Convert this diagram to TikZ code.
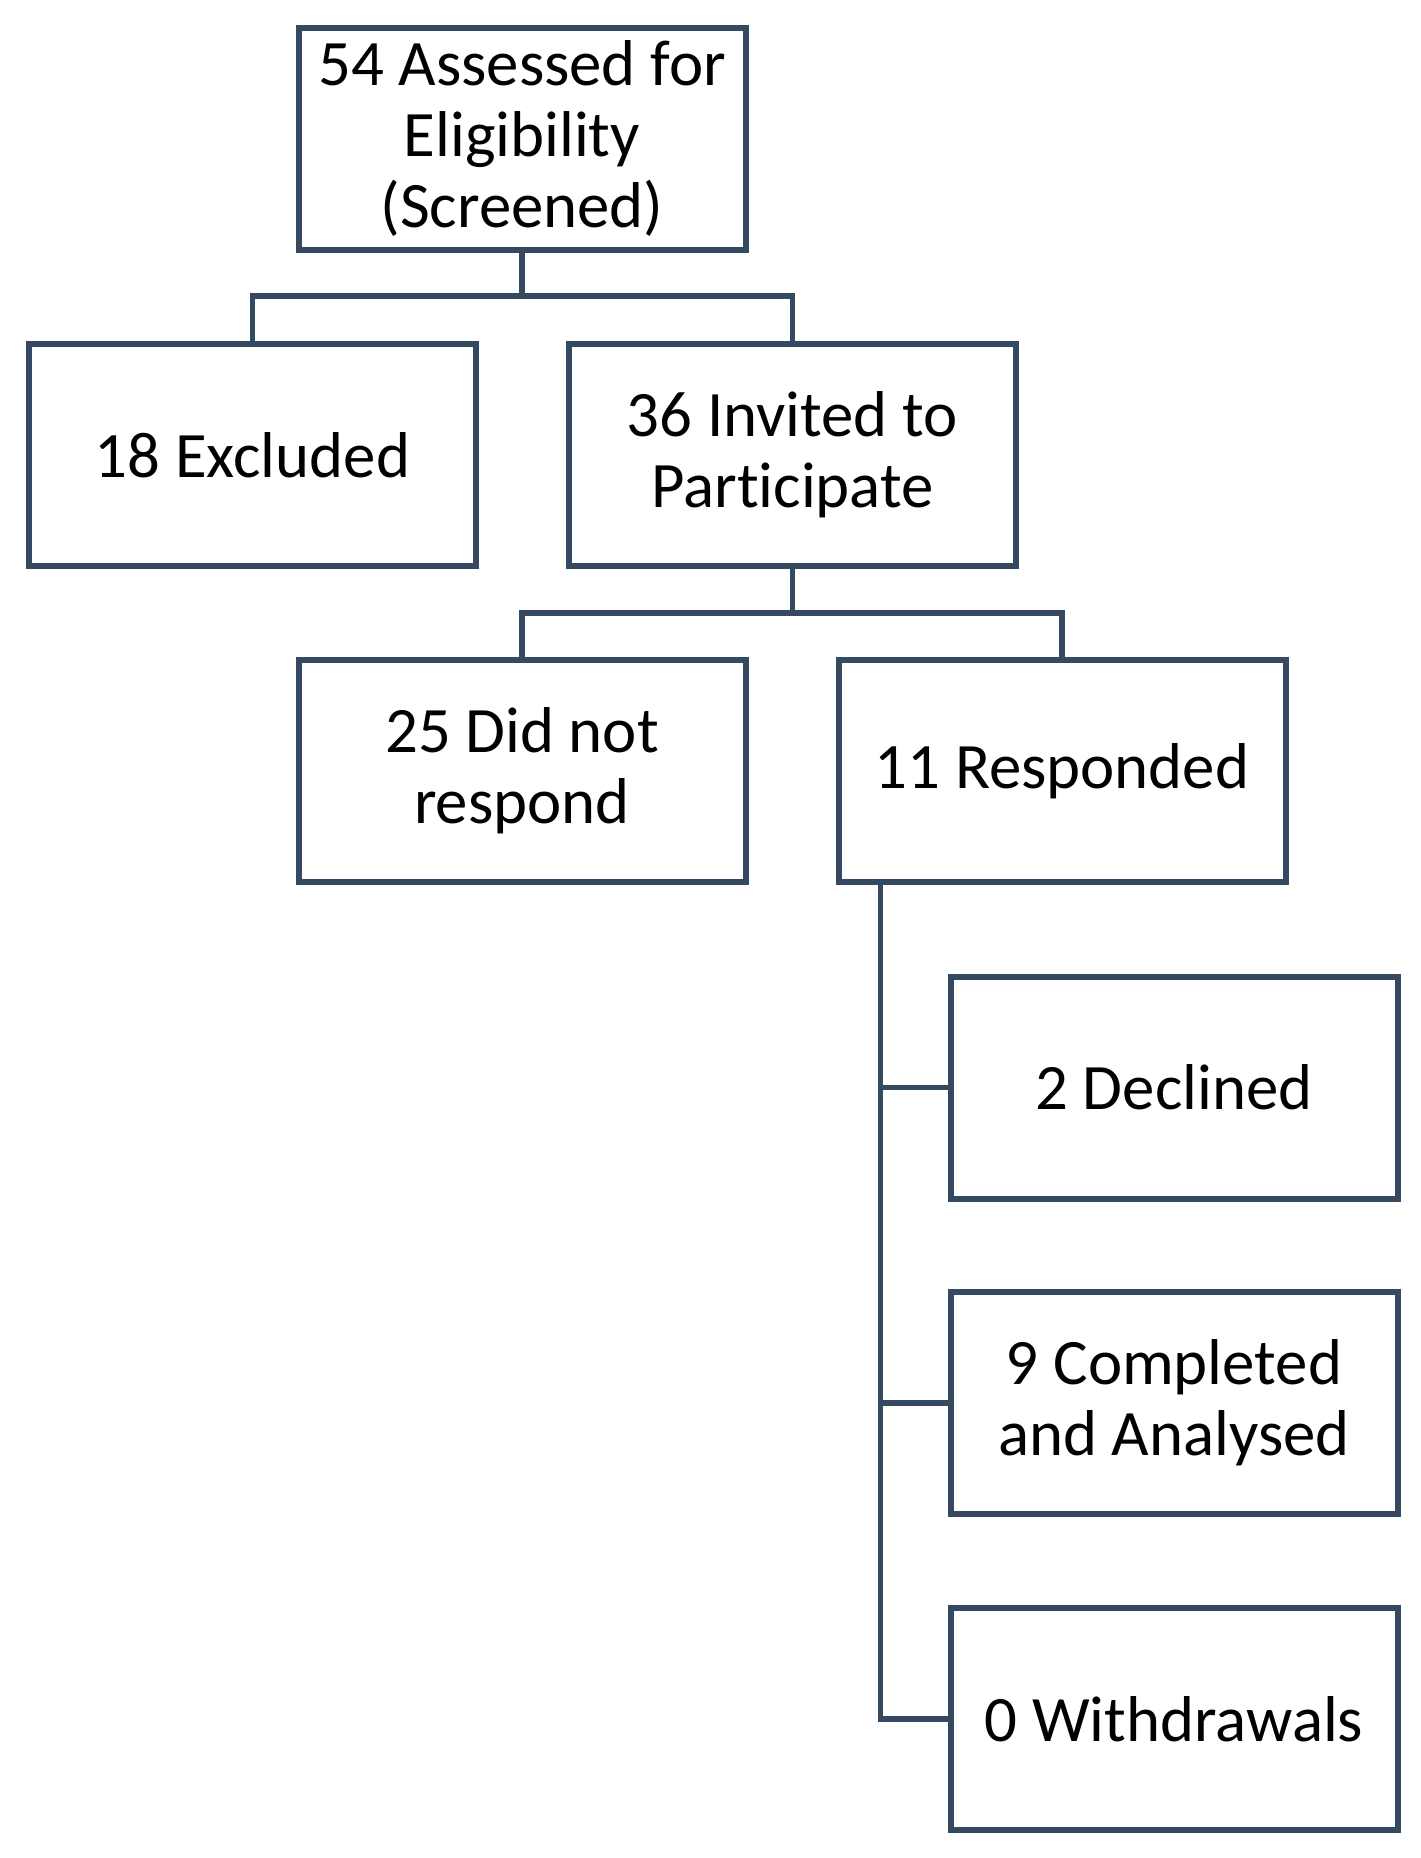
\documentclass[tikz,border=0pt]{standalone}
\usepackage{fontspec}
\setmainfont[Ligatures=NoCommon]{Carlito}
\definecolor{lineC}{RGB}{53,73,96}
\begin{document}
\begin{tikzpicture}[x=0.5pt,y=-0.5pt,
  box/.style={draw=lineC, line width=3pt, minimum width=223.5pt, minimum height=111pt,
    align=center, inner sep=0pt, font=\fontsize{32.4}{35.5}\selectfont},
  conn/.style={draw=lineC, line width=2.6pt}]
\useasboundingbox[fill=white] (0,0) rectangle (1420,1858);
\node[box] (top)  at (522,138.7) {54 Assessed for\\Eligibility\\(Screened)};
\node[box] (excl) at (252.5,455) {18 Excluded};
\node[box] (inv)  at (792.4,455) {36 Invited to\\Participate};
\node[box] (dnr)  at (522,771) {25 Did not\\respond};
\node[box] (resp) at (1062,771) {11 Responded};
\node[box] (decl) at (1174,1087.5) {2 Declined};
\node[box] (comp) at (1174,1403) {9 Completed\\and Analysed};
\node[box] (wd)   at (1174,1719) {0 Withdrawals};
\coordinate (j1) at (522,296);
\coordinate (j2) at (792.4,613);
\draw[conn] (top.south) -- (j1);
\draw[conn] (excl.north) |- (j1) -| (inv.north);
\draw[conn] (inv.south) -- (j2);
\draw[conn] (dnr.north) |- (j2) -| (resp.north);
\coordinate (t0) at ([xshift=22.5pt]resp.south west);
\draw[conn] (t0) |- (decl.west);
\draw[conn] (t0) |- (comp.west);
\draw[conn] (t0) |- (wd.west);
\end{tikzpicture}
\end{document}
